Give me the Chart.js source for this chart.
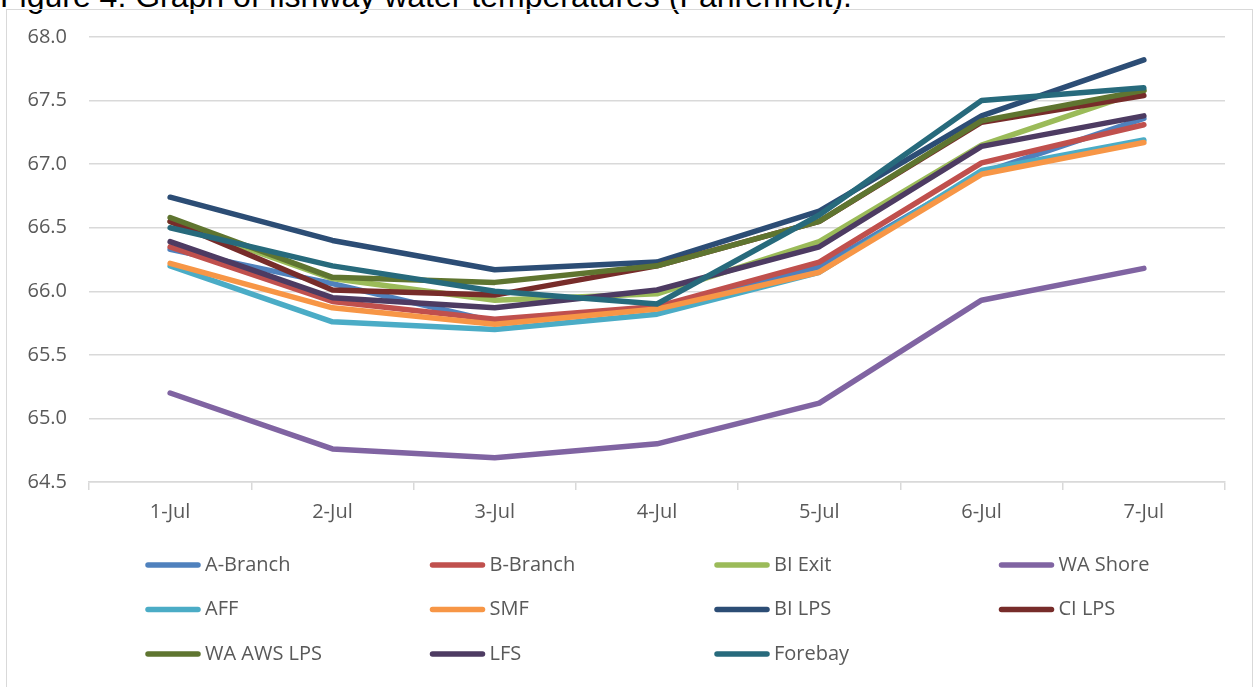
<!DOCTYPE html>
<html>
<head>
<meta charset="utf-8">
<script src="https://cdn.jsdelivr.net/npm/chart.js@4.4.0/dist/chart.umd.min.js"></script>
<style>
  html, body { margin: 0; padding: 0; background: #ffffff; overflow: hidden; }
  #wrap { position: relative; width: 1257px; height: 687px; overflow: hidden; background: #fff; }
  #title { position: absolute; left: 0px; top: -20px; font-family: "Liberation Sans", Arial, sans-serif; font-size: 32px; line-height: 32px; color: #000; white-space: nowrap; }
  #frame { position: absolute; left: 6px; top: 9px; width: 1247px; height: 700px; border: 1.5px solid #d9d9d9; box-sizing: border-box; }
  #c { position: absolute; left: 0; top: 0; }
</style>
</head>
<body>
<div id="wrap">
  <div id="title">Figure 4: Graph of fishway water temperatures (Fahrenheit).</div>
  <div id="frame"></div>
  <canvas id="c" width="1257" height="687"></canvas>
</div>
<script>
const categories = ['1-Jul', '2-Jul', '3-Jul', '4-Jul', '5-Jul', '6-Jul', '7-Jul'];
const seriesNames = ['A-Branch', 'B-Branch', 'BI Exit', 'WA Shore', 'AFF', 'SMF', 'BI LPS', 'CI LPS', 'WA AWS LPS', 'LFS', 'Forebay'];
const aBranch  = [66.33, 66.06, 65.76, 65.87, 66.19, 66.93, 67.36];
const bBranch  = [66.35, 65.92, 65.78, 65.88, 66.23, 67.01, 67.31];
const biExit   = [66.55, 66.10, 65.93, 65.98, 66.39, 67.15, 67.58];
const waShore  = [65.20, 64.76, 64.69, 64.80, 65.12, 65.93, 66.18];
const aff      = [66.20, 65.76, 65.70, 65.82, 66.15, 66.95, 67.19];
const smf      = [66.22, 65.87, 65.74, 65.86, 66.15, 66.92, 67.17];
const biLps    = [66.74, 66.40, 66.17, 66.23, 66.63, 67.38, 67.82];
const ciLps    = [66.55, 66.01, 65.97, 66.20, 66.55, 67.33, 67.54];
const waAwsLps = [66.58, 66.11, 66.07, 66.20, 66.55, 67.34, 67.58];
const lfs      = [66.39, 65.95, 65.87, 66.01, 66.35, 67.14, 67.38];
const forebay  = [66.50, 66.20, 66.00, 65.90, 66.60, 67.50, 67.60];
const yMin = 64.5, yMax = 68.0, yStep = 0.5;

const seriesValues = [aBranch, bBranch, biExit, waShore, aff, smf, biLps, ciLps, waAwsLps, lfs, forebay];
const seriesColors = ['#4F81BD', '#C0504D', '#9BBB59', '#8064A2', '#4BACC6', '#F79646', '#2C4D75', '#772C2A', '#5F7530', '#4D3B62', '#276A7C'];

const FONT = '"Open Sans", "DejaVu Sans", sans-serif';
const TEXT = '#595959';
const GRID = '#d9d9d9';

const datasets = seriesNames.map((name, i) => ({
  label: name,
  data: seriesValues[i],
  borderColor: seriesColors[i],
  backgroundColor: seriesColors[i],
  borderWidth: 5.5,
  borderCapStyle: 'round',
  borderJoinStyle: 'round',
  pointRadius: 0,
  pointHoverRadius: 0,
  tension: 0,
  fill: false,
  order: seriesNames.length - i
}));

const gridLegend = {
  id: 'gridLegend',
  afterDraw(chart) {
    const ctx = chart.ctx;
    const x0 = 146, colW = 284.5, y0 = 565, rowH = 44.5, lineLen = 54;
    ctx.save();
    ctx.font = '20px ' + FONT;
    ctx.textBaseline = 'middle';
    ctx.textAlign = 'left';
    chart.data.datasets.forEach((ds, i) => {
      const col = i % 4, row = Math.floor(i / 4);
      const x = x0 + col * colW, y = y0 + row * rowH;
      ctx.strokeStyle = ds.borderColor;
      ctx.lineWidth = 5.5;
      ctx.lineCap = 'round';
      ctx.beginPath();
      ctx.moveTo(x + 2, y);
      ctx.lineTo(x + lineLen - 2, y);
      ctx.stroke();
      ctx.fillStyle = TEXT;
      ctx.fillText(ds.label, x + lineLen + 5, y);
    });
    ctx.restore();
  }
};

new Chart(document.getElementById('c'), {
  type: 'line',
  data: { labels: categories, datasets },
  options: {
    responsive: false,
    animation: false,
    events: [],
    layout: { padding: { left: 0, right: 32, top: 37, bottom: 160 } },
    plugins: { legend: { display: false }, tooltip: { enabled: false }, title: { display: false } },
    scales: {
      x: {
        type: 'category',
        offset: true,
        grid: { offset: true, drawOnChartArea: false, drawTicks: true, tickLength: 8, color: GRID, lineWidth: 1.5 },
        border: { display: true, color: GRID, width: 1.5 },
        ticks: { color: TEXT, font: { family: FONT, size: 20 }, padding: 10, maxRotation: 0 },
        afterFit(s) { s.height = 45; }
      },
      y: {
        min: yMin, max: yMax,
        grid: { drawTicks: false, color: GRID, lineWidth: 1.5 },
        border: { display: false },
        ticks: { stepSize: yStep, color: TEXT, font: { family: FONT, size: 20 }, padding: 22,
                 callback: v => Number(v).toFixed(1) },
        afterFit(s) { s.width = 89; }
      }
    }
  },
  plugins: [gridLegend]
});
</script>
</body>
</html>
